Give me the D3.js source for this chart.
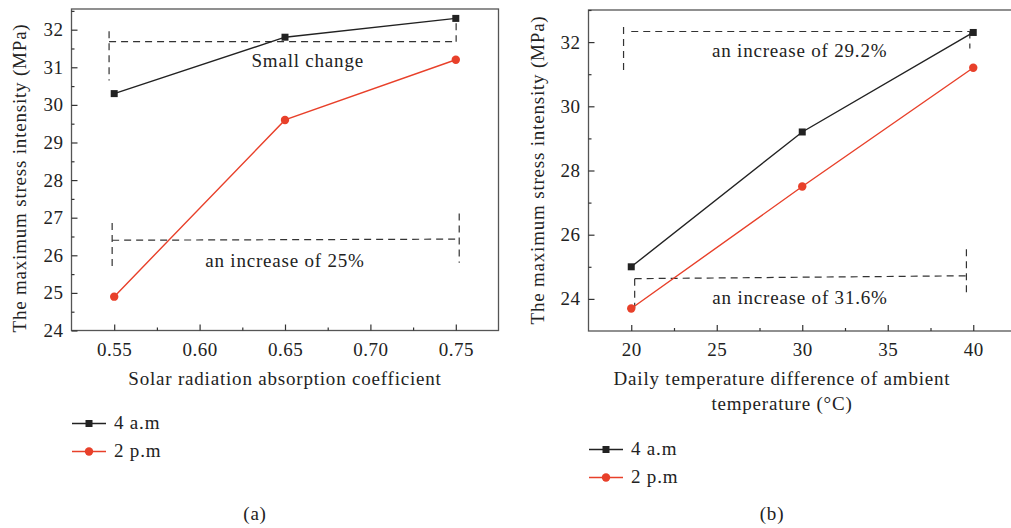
<!DOCTYPE html>
<html>
<head>
<meta charset="utf-8">
<script src="https://cdn.jsdelivr.net/npm/d3@7"></script>
<style>
  body { margin: 0; background: #fff; }
  svg { display: block; font-family: "Liberation Serif", "DejaVu Serif", serif; }
</style>
</head>
<body>
<svg id="chart" width="1011" height="528"></svg>
<script>
// panel (a) - solar radiation absorption coefficient
const absorption = [0.55, 0.65, 0.75]
const stressAm_a = [30.3, 31.8, 32.3]
const stressPm_a = [24.9, 29.6, 31.2]
const xTicks_a = [0.55, 0.60, 0.65, 0.70, 0.75]
const yTicks_a = [24, 25, 26, 27, 28, 29, 30, 31, 32]

// panel (b) - daily temperature difference
const tempDiff = [20, 30, 40]
const stressAm_b = [25.0, 29.2, 32.3]
const stressPm_b = [23.7, 27.5, 31.2]
const xTicks_b = [20, 25, 30, 35, 40]
const yTicks_b = [24, 26, 28, 30, 32]

const seriesNames = ['4 a.m', '2 p.m']

const BLACK = '#222'
const RED = '#e8402a'
const FS = 19      // font size
const LS = 0.8     // letter spacing, the original face is wider than Times
const svg = d3.select('#chart')

function label(g, txt) {
    return g.append('text').attr('font-size', FS).attr('letter-spacing', LS).attr('fill', '#222').text(txt)
}

function drawPanel(p) {
    const x = d3.scaleLinear().domain(p.xDomain).range([p.left, p.right])
    const y = d3.scaleLinear().domain(p.yDomain).range([p.bottom, p.top])
    const g = svg.append('g')

    // frame
    g.append('rect')
        .attr('x', p.left).attr('y', p.top)
        .attr('width', p.right - p.left).attr('height', p.bottom - p.top)
        .attr('fill', 'none').attr('stroke', '#555').attr('stroke-width', 1.3)

    // minor ticks
    g.append('g').attr('transform', `translate(0,${p.bottom})`)
        .call(d3.axisBottom(x).tickValues(p.xMinor).tickSize(-3).tickFormat(''))
    g.append('g').attr('transform', `translate(${p.left},0)`)
        .call(d3.axisLeft(y).tickValues(p.yMinor).tickSize(-3).tickFormat(''))

    // major ticks
    g.append('g').attr('transform', `translate(0,${p.bottom})`)
        .call(d3.axisBottom(x).tickValues(p.xTicks).tickSize(-6).tickPadding(12).tickFormat(p.xFormat))
    g.append('g').attr('transform', `translate(${p.left},0)`)
        .call(d3.axisLeft(y).tickValues(p.yTicks).tickSize(-6).tickPadding(8).tickFormat(d3.format('d')))

    g.selectAll('.domain').remove()
    g.selectAll('.tick line').attr('stroke', '#333').attr('stroke-width', 1.2)
    g.selectAll('.tick text').attr('font-size', FS).attr('letter-spacing', 0.5).attr('fill', '#222')
        .attr('font-family', '"Liberation Serif", serif')

    // dashed annotation brackets
    const dash = pts => g.append('path').attr('d', d3.line()(pts))
        .attr('stroke', '#333').attr('stroke-width', 1.2).attr('stroke-dasharray', '7,5').attr('fill', 'none')
    p.brackets.forEach(b => {
        dash([[x(b.x1), y(b.y1a)], [x(b.x1), y(b.y1b)]])
        dash([[x(b.hx1), y(b.hy1)], [x(b.hx2), y(b.hy2)]])
        dash([[x(b.x2), y(b.y2a)], [x(b.x2), y(b.y2b)]])
        label(g, b.label).attr('x', x(b.tx)).attr('y', y(b.ty)).attr('text-anchor', 'middle')
    })

    // series
    const line = d3.line().x(d => x(d[0])).y(d => y(d[1]))
    const am = p.xs.map((v, i) => [v, p.am[i]])
    const pm = p.xs.map((v, i) => [v, p.pm[i]])
    g.append('path').attr('d', line(am)).attr('fill', 'none').attr('stroke', BLACK).attr('stroke-width', 1.4)
    g.append('path').attr('d', line(pm)).attr('fill', 'none').attr('stroke', RED).attr('stroke-width', 1.4)
    g.selectAll('.sq').data(am).enter().append('rect')
        .attr('x', d => x(d[0]) - 3.5).attr('y', d => y(d[1]) - 3.5)
        .attr('width', 7).attr('height', 7).attr('fill', BLACK)
    g.selectAll('.dot').data(pm).enter().append('circle')
        .attr('cx', d => x(d[0])).attr('cy', d => y(d[1])).attr('r', 4.2).attr('fill', RED)

    // axis titles
    label(g, 'The maximum stress intensity (MPa)')
        .attr('transform', `translate(${p.yTitleX},${p.yTitleY}) rotate(-90)`)
        .attr('text-anchor', 'middle')
    p.xTitle.forEach((t, i) => {
        label(g, t).attr('x', p.xTitleX).attr('y', p.xTitleY + i * 25).attr('text-anchor', 'middle')
    })

    // legend
    seriesNames.forEach((name, i) => {
        const ly = p.legendY + i * 28
        const col = i === 0 ? BLACK : RED
        g.append('line').attr('x1', p.legendX).attr('x2', p.legendX + 34)
            .attr('y1', ly).attr('y2', ly).attr('stroke', col).attr('stroke-width', 1.4)
        if (i === 0) {
            g.append('rect').attr('x', p.legendX + 13.5).attr('y', ly - 3.5).attr('width', 7).attr('height', 7).attr('fill', col)
        } else {
            g.append('circle').attr('cx', p.legendX + 17).attr('cy', ly).attr('r', 4.2).attr('fill', col)
        }
        label(g, name).attr('x', p.legendX + 42).attr('y', ly + 5.5)
    })

    label(g, p.caption).attr('x', p.capX).attr('y', 520).attr('text-anchor', 'middle')
}

drawPanel({
    left: 71.5, right: 498.5, top: 9, bottom: 330.5,
    xDomain: [0.525, 0.775], yDomain: [24, 32.55],
    xs: absorption, am: stressAm_a, pm: stressPm_a,
    xTicks: xTicks_a, yTicks: yTicks_a,
    xMinor: [0.575, 0.625, 0.675, 0.725], yMinor: [24.5, 25.5, 26.5, 27.5, 28.5, 29.5, 30.5, 31.5, 32.5],
    xFormat: d3.format('.2f'),
    brackets: [
        { x1: 0.547, y1a: 31.96, y1b: 30.65, hx1: 0.547, hy1: 31.68, hx2: 0.7502, hy2: 31.68,
          x2: 0.7502, y2a: 32.17, y2b: 31.68, tx: 0.6633, ty: 31.0, label: 'Small change' },
        { x1: 0.5488, y1a: 26.86, y1b: 25.62, hx1: 0.5488, hy1: 26.40, hx2: 0.752, hy2: 26.43,
          x2: 0.752, y2a: 27.11, y2b: 25.8, tx: 0.65, ty: 25.7, label: 'an increase of 25%' }
    ],
    yTitleX: 26, yTitleY: 178, xTitle: ['Solar radiation absorption coefficient'], xTitleX: 285, xTitleY: 385,
    legendX: 72, legendY: 423.5, capX: 255, caption: '(a)'
})

drawPanel({
    left: 588.5, right: 1016, top: 10, bottom: 331,
    xDomain: [17.5, 42.5], yDomain: [23, 33],
    xs: tempDiff, am: stressAm_b, pm: stressPm_b,
    xTicks: xTicks_b, yTicks: yTicks_b,
    xMinor: [22.5, 27.5, 32.5, 37.5], yMinor: [25, 27, 29, 31, 33],
    xFormat: d3.format('d'),
    brackets: [
        { x1: 19.55, y1a: 32.47, y1b: 30.98, hx1: 20.0, hy1: 32.33, hx2: 39.8, hy2: 32.33,
          x2: 39.8, y2a: 32.33, y2b: 31.8, tx: 29.85, ty: 31.55, label: 'an increase of 29.2%' },
        { x1: 20.2, y1a: 24.63, y1b: 23.72, hx1: 20.2, hy1: 24.63, hx2: 39.6, hy2: 24.72,
          x2: 39.6, y2a: 25.55, y2b: 24.05, tx: 29.87, ty: 23.84, label: 'an increase of 31.6%' }
    ],
    yTitleX: 544, yTitleY: 170, xTitle: ['Daily temperature difference of ambient', 'temperature (°C)'], xTitleX: 782, xTitleY: 385,
    legendX: 589, legendY: 449.5, capX: 772, caption: '(b)'
})
</script>
</body>
</html>
